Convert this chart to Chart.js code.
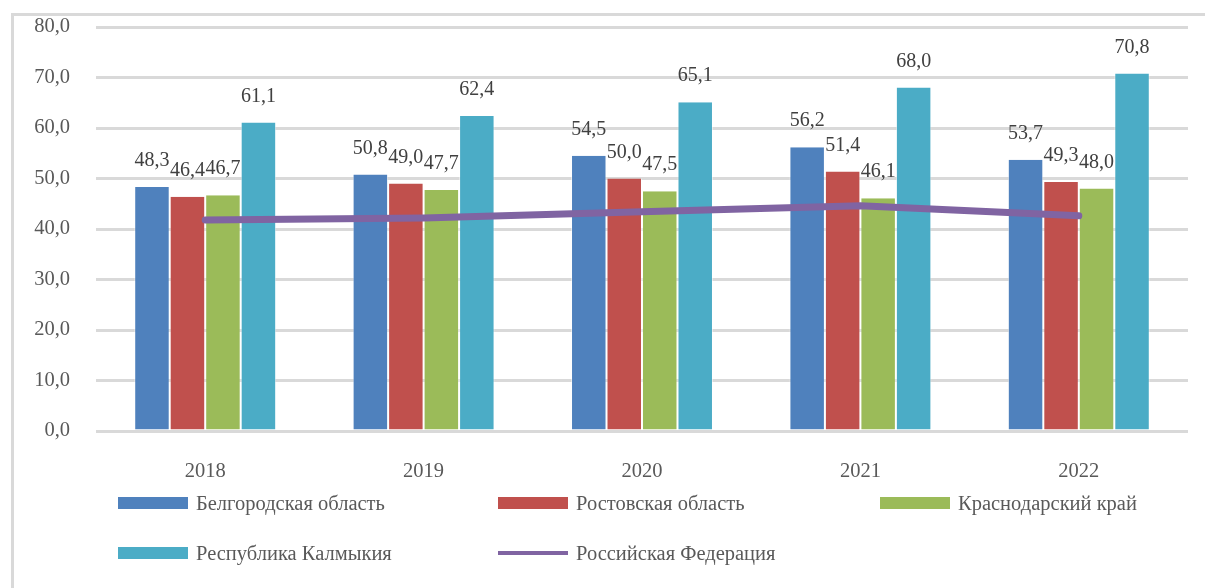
<!DOCTYPE html>
<html>
<head>
<meta charset="utf-8">
<script src="https://cdn.jsdelivr.net/npm/chart.js@4/dist/chart.umd.min.js"></script>
<style>
  html, body { margin:0; padding:0; background:#fff; }
  #wrap { position:relative; width:1205px; height:588px; overflow:hidden; }
  #frame { position:absolute; left:11px; top:13px; width:1200px; height:600px;
           border-left:3px solid #d9d9d9; border-top:3px solid #d9d9d9; }
  #chart { position:absolute; left:0; top:0; }
  .lg { position:absolute; font-family:"Liberation Serif","Times New Roman",serif;
        font-size:20.5px; color:#595959; white-space:nowrap; line-height:22px; }
  .lg i { position:absolute; left:0; top:0; width:70px; }
  .lg span { position:absolute; left:78px; top:-11px; }
</style>
</head>
<body>
<div id="wrap">
  <div id="frame"></div>
  <canvas id="chart" width="1205" height="588"></canvas>
  <div id="legend"></div>
</div>
<script>
// data
const years = ['2018', '2019', '2020', '2021', '2022'];
const belgorod = [48.3, 50.8, 54.5, 56.2, 53.7];
const rostov = [46.4, 49.0, 50.0, 51.4, 49.3];
const krasnodar = [46.7, 47.7, 47.5, 46.1, 48.0];
const kalmykia = [61.1, 62.4, 65.1, 68.0, 70.8];
const russia = [41.8, 42.2, 43.4, 44.6, 42.6];
const yTicks = [0, 10, 20, 30, 40, 50, 60, 70, 80];

const fmt = v => v.toFixed(1).replace('.', ',');
const serif = '"Liberation Serif","Times New Roman",serif';

const series = [
  { label:'Белгородская область', data:belgorod, color:'#4f81bd' },
  { label:'Ростовская область', data:rostov, color:'#c0504d' },
  { label:'Краснодарский край', data:krasnodar, color:'#9bbb59' },
  { label:'Республика Калмыкия', data:kalmykia, color:'#4bacc6' }
];

const datasets = [{
  type:'line', label:'Российская Федерация', data:russia,
  borderColor:'#8064a2', borderWidth:7, borderCapStyle:'round', borderJoinStyle:'round',
  pointRadius:0, tension:0, fill:false, order:0
}].concat(series.map(s => ({
  type:'bar', label:s.label, data:s.data, backgroundColor:s.color,
  borderColor:'rgba(255,255,255,0.5)', borderWidth:{left:1, right:1, top:0, bottom:0},
  categoryPercentage:0.65, barPercentage:1, order:1
})));

// value labels above the bars
const barLabels = {
  id:'barLabels',
  afterDatasetsDraw(chart){
    const ctx = chart.ctx;
    ctx.save();
    ctx.font = '20px ' + serif;
    ctx.fillStyle = '#404040';
    ctx.textAlign = 'center';
    ctx.textBaseline = 'middle';
    chart.data.datasets.forEach((ds, i) => {
      if (ds.type !== 'bar') return;
      chart.getDatasetMeta(i).data.forEach((bar, j) => {
        ctx.fillText(fmt(ds.data[j]), bar.x, bar.y - 26);
      });
    });
    ctx.restore();
  }
};

new Chart(document.getElementById('chart'), {
  data:{ labels:years, datasets },
  options:{
    responsive:false, animation:false,
    layout:{ padding:{ top:27, right:17, bottom:92, left:0 } },
    plugins:{ legend:{ display:false }, tooltip:{ enabled:false } },
    scales:{
      x:{
        grid:{ display:false }, border:{ display:false },
        ticks:{ color:'#595959', font:{ family:serif, size:20.5 }, padding:20 },
        afterFit(s){ s.height = 65; }
      },
      y:{
        min:0, max:80,
        afterBuildTicks(s){ s.ticks = yTicks.map(v => ({ value:v })); },
        grid:{ color:'#d9d9d9', lineWidth:3, drawTicks:false },
        border:{ display:false },
        ticks:{ color:'#595959', font:{ family:serif, size:20.5 }, padding:26,
                callback:v => fmt(v) },
        // tick padding would otherwise push the plot top down
        afterFit(s){ s.width = 96; s.paddingTop = 12; s.paddingBottom = 12; }
      }
    }
  },
  plugins:[barLabels]
});

// legend, laid out like the original (3 columns, 2 rows)
const legendItems = series.map(s => ({ label:s.label, color:s.color, line:false }))
  .concat([{ label:'Российская Федерация', color:'#8064a2', line:true }]);
const colX = [118, 498, 880];
const rowY = [503, 553];
const lg = document.getElementById('legend');
legendItems.forEach((it, k) => {
  const d = document.createElement('div');
  d.className = 'lg';
  d.style.left = colX[k % 3] + 'px';
  d.style.top = rowY[Math.floor(k / 3)] + 'px';
  const h = it.line ? 4 : 12;
  d.innerHTML = `<i style="background:${it.color};height:${h}px;margin-top:${-h/2}px"></i><span>${it.label}</span>`;
  lg.appendChild(d);
});
</script>
</body>
</html>
